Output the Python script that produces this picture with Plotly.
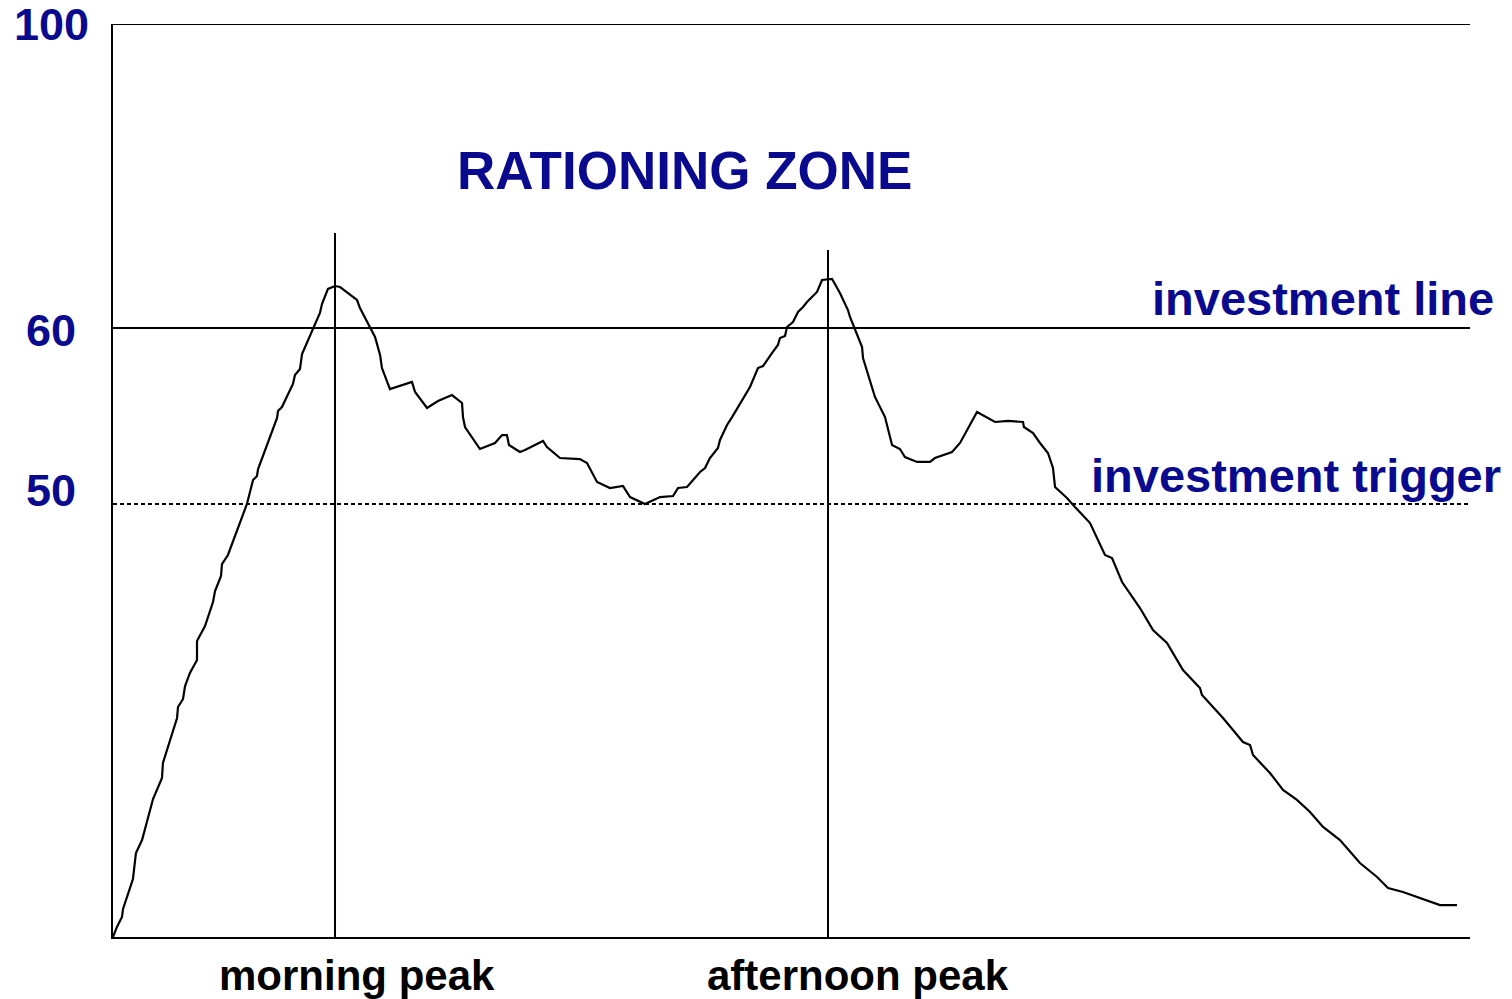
import plotly.graph_objects as go

# Time of day (0-100 index across the day) and plotted load height (0-100 scale of the axis)
time_idx = [0, 0.29, 0.66, 0.74, 1.47, 1.69, 2.14, 2.95, 3.61, 3.68, 4.72, 4.79, 5.16, 5.31, 5.67,
            6.19, 6.19, 6.78, 7.37, 7.52, 7.96, 8.03, 8.47, 8.99, 9.87, 10.32, 10.61, 10.69, 12.09,
            12.16, 12.45, 13.26, 13.41, 13.78, 13.93, 15.25, 15.40, 15.84, 16.36, 16.73, 17.24,
            17.98, 18.20, 18.57, 18.94, 19.31, 19.68, 19.82, 20.41, 22.03, 22.26, 23.14, 23.95,
            24.98, 25.72, 25.79, 25.94, 27.04, 28.15, 28.67, 29.03, 29.18, 29.99, 30.36, 31.69,
            31.98, 32.94, 34.41, 34.93, 35.67, 36.62, 37.58, 38.10, 39.20, 40.31, 41.27, 41.64,
            42.30, 43.26, 43.63, 43.99, 44.58, 44.73, 45.25, 45.62, 46.21, 46.94, 47.53, 47.90,
            48.56, 49.00, 49.15, 49.52, 49.67, 50.11, 50.48, 50.85, 51.14, 51.51, 51.88, 52.25,
            52.99, 53.57, 54.16, 54.31, 55.20, 55.27, 56.15, 56.89, 57.11, 57.41, 57.99, 58.36,
            59.25, 60.21, 60.57, 61.83, 62.42, 63.01, 63.67, 65.00, 65.95, 67.06, 67.13, 67.80,
            68.31, 68.90, 69.27, 69.42, 70.30, 70.89, 72.00, 73.10, 73.62, 74.36, 75.68, 76.64,
            77.67, 78.85, 80.10, 80.25, 81.80, 83.27, 83.79, 84.01, 85.26, 86.22, 87.25, 88.21,
            89.17, 90.42, 91.89, 93.15, 93.96, 95.06, 97.05, 97.79, 99.04]
load = [0, 1.10, 2.19, 3.07, 6.35, 9.20, 10.62, 15.11, 17.42, 19.06, 23.99, 25.19, 26.07, 27.49,
        28.92, 30.34, 32.42, 34.06, 36.69, 37.90, 39.54, 40.85, 41.84, 43.92, 47.43, 50.05, 50.49,
        51.26, 56.85, 57.61, 58.05, 60.57, 61.56, 62.21, 63.86, 68.35, 69.33, 70.98, 71.30, 71.19,
        70.65, 69.77, 68.89, 67.80, 66.81, 65.72, 63.75, 62.32, 60.02, 60.79, 59.69, 57.94, 58.71,
        59.36, 58.49, 56.95, 55.86, 53.45, 54.11, 54.98, 54.98, 53.89, 53.12, 53.34, 54.33, 53.67,
        52.46, 52.35, 51.92, 49.84, 49.18, 49.40, 48.19, 47.43, 48.19, 48.30, 49.18, 49.29, 50.93,
        51.37, 52.46, 53.56, 54.44, 56.08, 56.95, 58.49, 60.24, 62.32, 62.54, 63.96, 64.84, 65.61,
        65.83, 66.81, 67.36, 68.46, 69.00, 69.55, 70.10, 70.65, 71.96, 72.07, 70.54, 68.67, 67.91,
        64.62, 63.42, 59.15, 56.95, 55.53, 53.89, 53.45, 52.57, 52.03, 52.03, 52.46, 53.12, 54.11,
        55.75, 57.50, 56.41, 56.52, 56.41, 55.86, 55.20, 54.11, 53.01, 51.37, 49.29, 48.08, 47.10,
        45.34, 41.84, 41.51, 38.88, 36.03, 33.63, 32.20, 29.24, 27.27, 26.51, 23.99, 21.36, 21.03,
        19.93, 17.96, 16.10, 15.01, 13.69, 12.05, 10.62, 8.10, 6.57, 5.37, 4.93, 3.83, 3.50, 3.50]

# Schematic levels (positions on the plotted scale) and their labels
level_pos = [100, 66.70, 47.43]
level_labels = ["100", "60", "50"]
peak_times = [16.36, 52.69]
peak_line_tops = [77.11, 75.25]
peak_labels = ["morning peak", "afternoon peak"]

BLUE = "#0a0a8e"
FONT = "Arial, Liberation Sans, sans-serif"

fig = go.Figure()
fig.add_trace(go.Scatter(x=time_idx, y=load, mode="lines",
                         line=dict(color="black", width=2.2), showlegend=False,
                         hoverinfo="skip"))

shapes = []
# top (100) line
shapes.append(dict(type="line", xref="x", yref="y", x0=0, x1=100, y0=level_pos[0], y1=level_pos[0],
                   line=dict(color="black", width=2)))
# investment line (60)
shapes.append(dict(type="line", xref="x", yref="y", x0=0, x1=100, y0=level_pos[1], y1=level_pos[1],
                   line=dict(color="black", width=2)))
# investment trigger (50)
shapes.append(dict(type="line", xref="x", yref="y", x0=0, x1=100, y0=level_pos[2], y1=level_pos[2],
                   line=dict(color="black", width=2, dash="4px,3px")))
for t, top in zip(peak_times, peak_line_tops):
    shapes.append(dict(type="line", xref="x", yref="y", x0=t, x1=t, y0=0, y1=top,
                       line=dict(color="black", width=2)))

# Annotations use paper coordinates (plot area = 0..1 for both axes, range 0..100)
annotations = []
label_y = [100, 66.4, 48.85]
for lab, yv in zip(level_labels, label_y):
    annotations.append(dict(text=f"<b>{lab}</b>", x=-0.0455, y=yv / 100, xref="paper", yref="paper",
                            xanchor="center", yanchor="middle", showarrow=False,
                            font=dict(family=FONT, size=45, color=BLUE)))
annotations.append(dict(text="<b>RATIONING ZONE</b>", x=0.4215, y=0.8393, xref="paper", yref="paper",
                        xanchor="center", yanchor="middle", showarrow=False,
                        font=dict(family=FONT, size=53, color=BLUE)))
annotations.append(dict(text="<b>investment line</b>", x=1.019, y=0.6993, xref="paper", yref="paper",
                        xanchor="right", yanchor="middle", showarrow=False,
                        font=dict(family=FONT, size=47, color=BLUE)))
annotations.append(dict(text="<b>investment trigger</b>", x=0.719, y=0.5055, xref="paper", yref="paper",
                        xanchor="left", yanchor="middle", showarrow=False,
                        font=dict(family=FONT, size=47, color=BLUE)))
for lab, xc in zip(peak_labels, [0.1798, 0.5490]):
    annotations.append(dict(text=f"<b>{lab}</b>", x=xc, y=-0.042, xref="paper", yref="paper",
                            xanchor="center", yanchor="middle", showarrow=False,
                            font=dict(family=FONT, size=42, color="black")))

fig.update_layout(
    width=1512, height=999,
    margin=dict(l=113, r=42, t=24, b=62, pad=0),
    paper_bgcolor="white", plot_bgcolor="white",
    shapes=shapes, annotations=annotations,
    xaxis=dict(range=[0, 100], showgrid=False, zeroline=False, showticklabels=False,
               ticks="", showline=True, linecolor="black", linewidth=2, mirror=False),
    yaxis=dict(range=[0, 100], showgrid=False, zeroline=False, showticklabels=False,
               ticks="", showline=True, linecolor="black", linewidth=2, mirror=False),
)

fig.write_html("out.html", config={"displayModeBar": False},
               post_script="document.body.style.margin='0';document.body.style.overflow='hidden';")
